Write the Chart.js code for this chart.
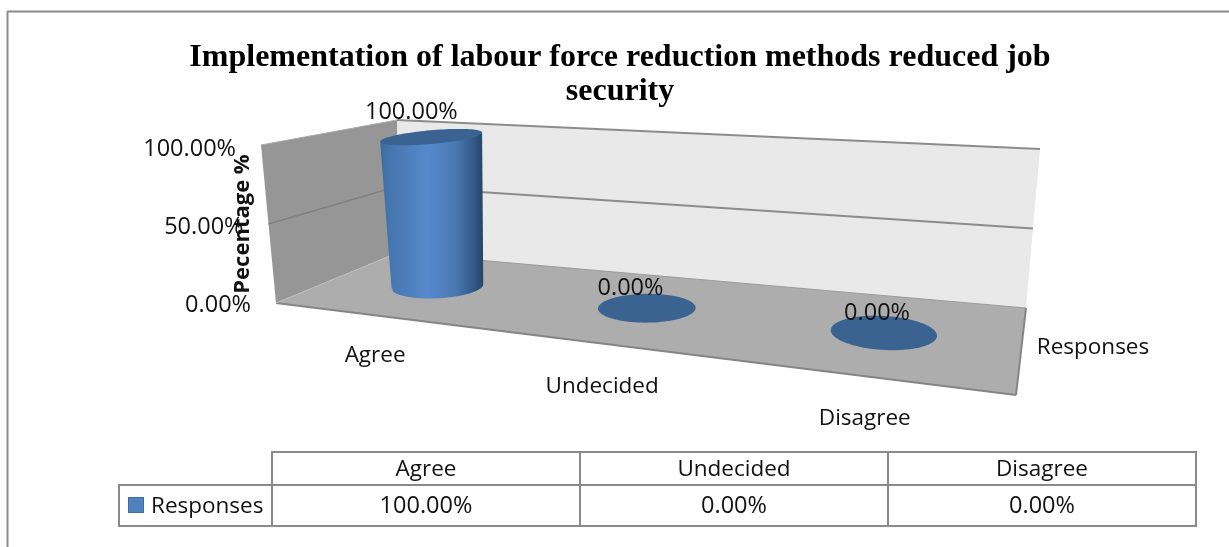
<!DOCTYPE html>
<html>
<head>
<meta charset="utf-8">
<title>Labour force reduction</title>
<script src="https://cdn.jsdelivr.net/npm/chart.js@4"></script>
<style>
  html, body { margin: 0; padding: 0; background: #fff; overflow: hidden; }
  #wrap { position: relative; width: 1229px; height: 547px; }
</style>
</head>
<body>
<div id="wrap"><canvas id="chart" width="1229" height="547"></canvas></div>
<script>
// ========================= Data =========================
const chartTitle = ['Implementation of labour force reduction methods reduced job', 'security'];
const axisTitle = 'Pecentage %';
const seriesName = 'Responses';
const categories = ['Agree', 'Undecided', 'Disagree'];
const responses = [100, 0, 0];
const yTicks = [0, 50, 100];

// ========================= Look =========================
const SANS = '"Open Sans", "Noto Sans", sans-serif';
const TEXT = '#111';
const LINE = '#8a8a8a';

// corners of the 3D box as it is seen on screen
const floorPlane = { bl: [397, 253], br: [1026, 308], fl: [276, 303], fr: [1016, 395] };
const topPlane = { bl: [397, 120], br: [1040, 149], fl: [261, 145], fr: [1013, 193] };
const CYL_DEPTH = 0.21;     // radius of the cylinder along the floor depth
const FLOOR_W = 0.5;        // where the cylinders stand between front and back

// Excel's 3D view does not space the categories evenly, small corrections per category
const standShift = [0.02, 0.032, 0.012];
const rimScale = [1.08, 1, 0.92];

// offsets of the labels from the projected positions
const dataLabelShift = [[-21, -24], [-16, -19], [-6, -19]];
const catLabelShift = [[-2, 40], [1, 43], [4, 43]];

const fmt = v => v.toFixed(2) + '%';

// unit square -> quad (u: left to right, w: front to back)
function quadMap(q) {
  const [x0, y0] = q.fl, [x1, y1] = q.fr, [x2, y2] = q.br, [x3, y3] = q.bl;
  const dx1 = x1 - x2, dx2 = x3 - x2, sx = x0 - x1 + x2 - x3;
  const dy1 = y1 - y2, dy2 = y3 - y2, sy = y0 - y1 + y2 - y3;
  const d = dx1 * dy2 - dx2 * dy1;
  const g = (sx * dy2 - dx2 * sy) / d, h = (dx1 * sy - sx * dy1) / d;
  const a = x1 - x0 + g * x1, b = x3 - x0 + h * x3;
  const c = y1 - y0 + g * y1, e = y3 - y0 + h * y3;
  return (u, w) => {
    const t = g * u + h * w + 1;
    return [(a * u + b * w + x0) / t, (c * u + e * w + y0) / t];
  };
}
const onFloor = quadMap(floorPlane);
const onTop = quadMap(topPlane);

// f = share of the value axis (0 floor, 1 top)
function project(u, w, f) {
  const p = onFloor(u, w), q = onTop(u, w);
  return [p[0] + (q[0] - p[0]) * f, p[1] + (q[1] - p[1]) * f];
}

function poly(ctx, pts, fill, stroke, lw) {
  ctx.beginPath();
  pts.forEach((p, i) => i ? ctx.lineTo(p[0], p[1]) : ctx.moveTo(p[0], p[1]));
  ctx.closePath();
  if (fill) { ctx.fillStyle = fill; ctx.fill(); }
  if (stroke) { ctx.strokeStyle = stroke; ctx.lineWidth = lw || 1; ctx.stroke(); }
}

function seg(ctx, a, b, color, lw) {
  ctx.beginPath();
  ctx.moveTo(a[0], a[1]);
  ctx.lineTo(b[0], b[1]);
  ctx.strokeStyle = color;
  ctx.lineWidth = lw;
  ctx.stroke();
}

function label(ctx, text, x, y, font, align) {
  ctx.font = font;
  ctx.fillStyle = TEXT;
  ctx.textAlign = align || 'center';
  ctx.textBaseline = 'middle';
  ctx.fillText(text, x, y);
}

// ========================= 3D box =========================
function drawBox(chart) {
  const ctx = chart.ctx, yS = chart.scales.y;
  ctx.save();
  // outer frame
  seg(ctx, [7.5, 547], [7.5, 11.5], LINE, 2);
  seg(ctx, [7, 11.5], [1229, 11.5], LINE, 2);

  poly(ctx, [project(0, 1, 0), project(1, 1, 0), project(1, 1, 1), project(0, 1, 1)], '#e9e9e9');
  poly(ctx, [project(0, 0, 0), project(0, 1, 0), project(0, 1, 1), project(0, 0, 1)], '#969696');
  poly(ctx, [onFloor(0, 0), onFloor(1, 0), onFloor(1, 1), onFloor(0, 1)], '#adadad');
  seg(ctx, onFloor(0, 0), onFloor(1, 0), '#858585', 2);
  seg(ctx, onFloor(1, 0), onFloor(1, 1), '#858585', 2);
  seg(ctx, onFloor(0, 1), onFloor(1, 1), '#9a9a9a', 1);
  seg(ctx, onFloor(0, 0), onFloor(0, 1), '#bdbdbd', 1);

  // gridlines, from the value scale
  yS.ticks.forEach(t => {
    const f = t.value / yS.max;
    if (f === 0) return;
    seg(ctx, project(0, 0, f), project(0, 1, f), f === 1 ? '#a9a9a9' : '#808080', f === 1 ? 1 : 1.5);
    seg(ctx, project(0, 1, f), project(1, 1, f), '#8c8c8c', 2);
  });
  ctx.restore();
}

// ========================= Cylinders =========================
function drawCylinder(chart, el, i, ctx) {
  const area = chart.chartArea, yS = chart.scales.y;
  const u = (el.x - area.left) / area.width + standShift[i];
  const ru = el.width / 2 / area.width * rimScale[i];
  const f = yS.getValueForPixel(el.y) / yS.max;
  const rim = h => {
    const pts = [];
    const depth = CYL_DEPTH * (1 + 0.4 * h);
    const width = ru * (1 - 0.13 * h);
    for (let k = 0; k < 96; k++) {
      const a = k / 96 * Math.PI * 2;
      pts.push(project(u + width * Math.cos(a), FLOOR_W + depth * Math.sin(a), h));
    }
    return pts;
  };
  const top = rim(f);
  if (f > 0) {
    const bottom = rim(0);
    const ext = (pts, sign) => pts.reduce((m, p) => (p[0] * sign > m[0] * sign ? p : m), pts[0]);
    const bl = ext(bottom, -1), br = ext(bottom, 1), tl = ext(top, -1), tr = ext(top, 1);
    const midY = (bl[1] + br[1]) / 2;
    const front = bottom.filter(p => p[1] >= midY - 1).sort((p, q) => q[0] - p[0]);
    const grad = ctx.createLinearGradient(Math.min(tl[0], bl[0]), 0, Math.max(tr[0], br[0]), 0);
    grad.addColorStop(0, '#3c6aa0');
    grad.addColorStop(0.08, '#4575ad');
    grad.addColorStop(0.45, '#5689cc');
    grad.addColorStop(0.72, '#4a7ab4');
    grad.addColorStop(0.9, '#335a8a');
    grad.addColorStop(1, '#234468');
    poly(ctx, [tl, tr, br, ...front, bl], grad);
  }
  poly(ctx, top, '#3a6391');
}

// ========================= Plugin with the text and the data table =========================
const boxPlugin = {
  id: 'box3d',
  beforeDatasetsDraw(chart) { drawBox(chart); },
  beforeDatasetDraw(chart, args) {
    args.meta.data.forEach((el, i) => drawCylinder(chart, el, i, chart.ctx));
    return false;
  },
  afterDatasetsDraw(chart) {
    const ctx = chart.ctx, area = chart.chartArea, yS = chart.scales.y;
    const els = chart.getDatasetMeta(0).data;
    const font = '22.5px ' + SANS;
    const numFont = '23.5px ' + SANS;
    ctx.save();

    // value axis labels follow the lean of the left wall
    yS.ticks.forEach(t => {
      const f = t.value / yS.max;
      label(ctx, fmt(t.value), project(0, 0, f)[0] - 25, yS.getPixelForValue(t.value), numFont, 'right');
    });

    // axis title on top of the labels
    ctx.save();
    ctx.translate(243, 224);
    ctx.rotate(-Math.PI / 2);
    label(ctx, axisTitle, 0, 0, 'bold 22px ' + SANS);
    ctx.restore();

    // data labels and category labels
    els.forEach((el, i) => {
      const u = (el.x - area.left) / area.width + standShift[i];
      const f = yS.getValueForPixel(el.y) / yS.max;
      const c = project(u, FLOOR_W, f);
      label(ctx, fmt(responses[i]), c[0] + dataLabelShift[i][0], c[1] + dataLabelShift[i][1], numFont);
      const g = onFloor(u, 0);
      label(ctx, categories[i], g[0] + catLabelShift[i][0], g[1] + catLabelShift[i][1], font);
    });
    label(ctx, seriesName, 1093, 348, font);

    // data table below the plot
    const rowA = 452, rowB = 485, rowC = 526, legendLeft = 119;
    ctx.strokeStyle = LINE;
    ctx.lineWidth = 2;
    ctx.beginPath();
    ctx.moveTo(area.left, rowB); ctx.lineTo(area.left, rowA); ctx.lineTo(area.right, rowA); ctx.lineTo(area.right, rowC);
    ctx.lineTo(legendLeft, rowC); ctx.lineTo(legendLeft, rowB); ctx.lineTo(area.right, rowB);
    ctx.moveTo(area.left, rowB); ctx.lineTo(area.left, rowC);
    els.forEach((el, i) => {
      if (i === 0) return;
      const x = (els[i - 1].x + el.x) / 2;
      ctx.moveTo(x, rowA); ctx.lineTo(x, rowC);
    });
    ctx.stroke();
    els.forEach((el, i) => {
      label(ctx, categories[i], el.x, (rowA + rowB) / 2 + 1, font);
      label(ctx, fmt(responses[i]), el.x, (rowB + rowC) / 2 + 1, numFont);
    });
    ctx.fillStyle = '#4f81bd';
    ctx.strokeStyle = '#3e6da5';
    ctx.lineWidth = 1;
    ctx.fillRect(128.5, 497.5, 15, 15);
    ctx.strokeRect(128.5, 497.5, 15, 15);
    label(ctx, seriesName, 151, (rowB + rowC) / 2 + 1, font, 'left');
    ctx.restore();
  }
};

// ========================= Chart =========================
new Chart(document.getElementById('chart').getContext('2d'), {
  type: 'bar',
  data: {
    labels: categories,
    datasets: [{ label: seriesName, data: responses, backgroundColor: '#4f81bd', categoryPercentage: 1, barPercentage: 0.405 }]
  },
  plugins: [boxPlugin],
  options: {
    responsive: false,
    animation: false,
    layout: { padding: { left: 11, right: 0, top: 0, bottom: 242 } },
    plugins: {
      legend: { display: false },
      tooltip: { enabled: false },
      title: {
        display: true,
        text: chartTitle,
        color: '#000',
        font: { family: '"Liberation Serif", serif', weight: 'bold', size: 32, lineHeight: 34 / 32 },
        padding: { top: 41, bottom: 40 }
      }
    },
    scales: {
      x: { type: 'category', display: false },
      y: {
        type: 'linear', min: 0, max: 100, display: true,
        afterBuildTicks: s => { s.ticks = yTicks.map(v => ({ value: v })); },
        afterFit: s => { s.width = 261; },
        ticks: { display: false },
        grid: { display: false },
        border: { display: false }
      },
      // empty scale, only keeps the plot aligned with the table on the right
      yRight: {
        type: 'linear', position: 'right', display: true,
        afterFit: s => { s.width = 33; },
        ticks: { display: false },
        grid: { display: false },
        border: { display: false }
      }
    }
  }
});
</script>
</body>
</html>
